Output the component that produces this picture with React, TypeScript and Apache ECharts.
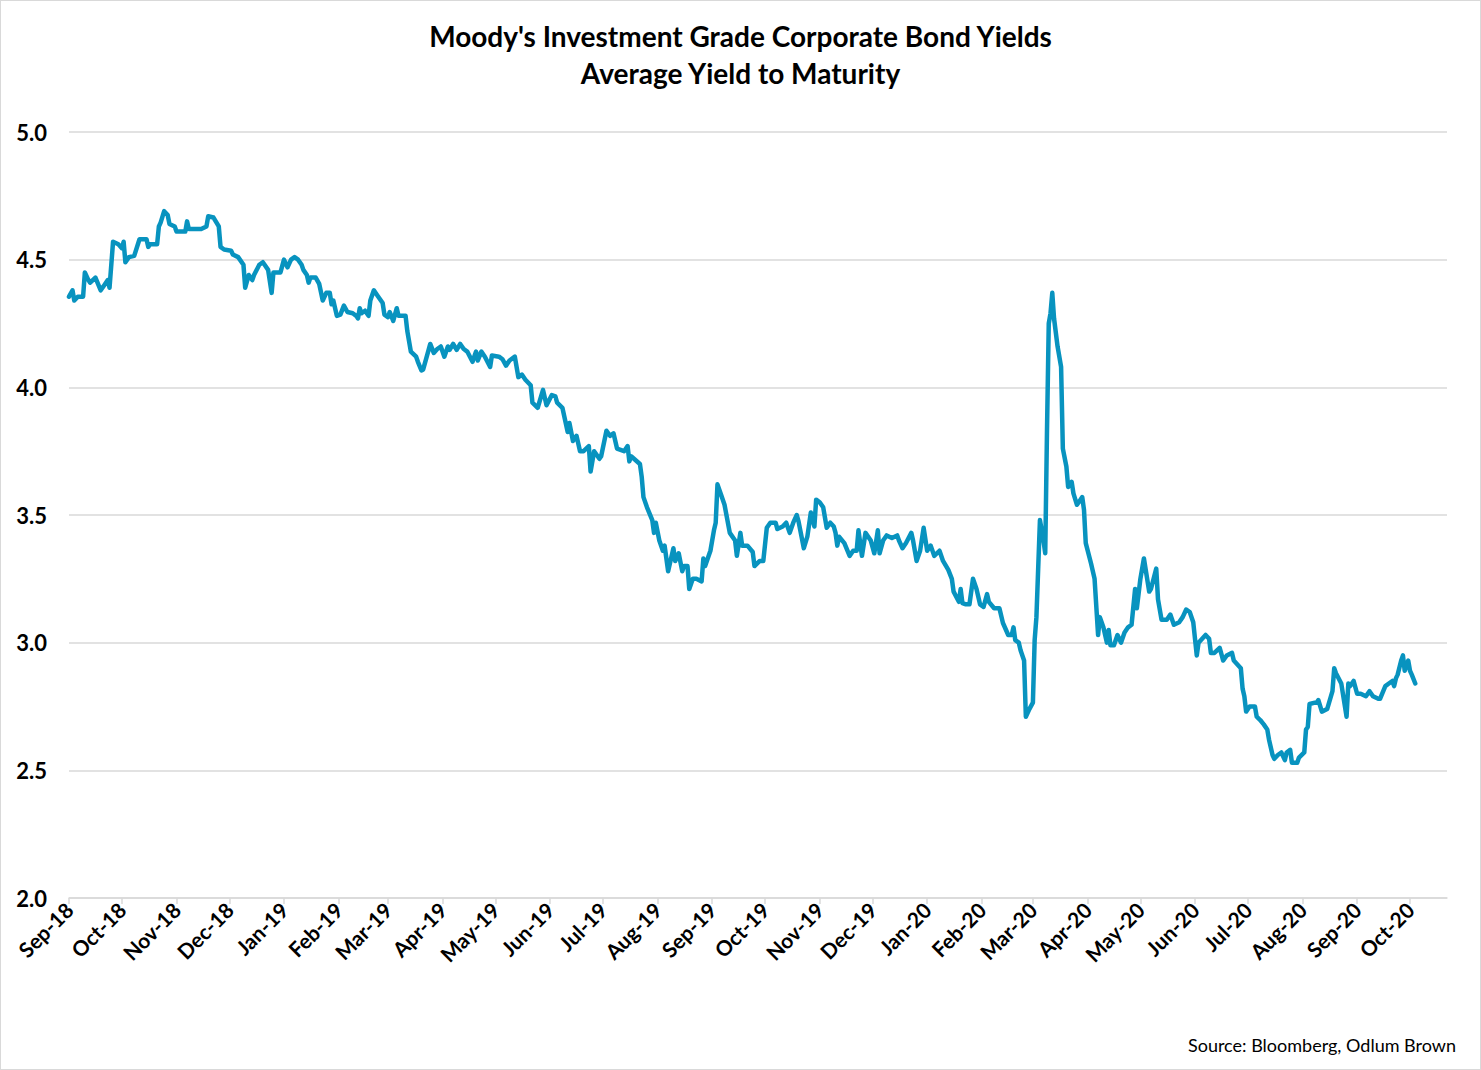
import React, { useEffect, useRef } from "react";
import * as echarts from "echarts";

const TITLE = "Moody's Investment Grade Corporate Bond Yields\nAverage Yield to Maturity";
const SOURCE = "Source: Bloomberg, Odlum Brown";
const START_DATE = "2018-09-01";
const END_DATE = "2020-10-22";
const MONTHS = ["Jan", "Feb", "Mar", "Apr", "May", "Jun", "Jul", "Aug", "Sep", "Oct", "Nov", "Dec"];
const Y_TICKS = [2.0, 2.5, 3.0, 3.5, 4.0, 4.5, 5.0];

// days since START_DATE
const DAY = [
  0, 2, 3, 5, 8, 9, 11, 12, 15, 18, 20, 22, 23, 25, 28, 30, 31, 32, 34, 37, 40, 44, 45, 46, 50, 51, 52, 54, 56, 57,
  60, 61, 66, 67, 68, 75, 78, 79, 82, 85, 86, 88, 92, 93, 96, 99, 100, 102, 104, 105, 108, 110, 111, 113, 115, 116, 120, 122, 124,
  126, 128, 130, 132, 133, 135, 136, 137, 140, 142, 144, 146, 148, 149, 150, 152, 154, 156, 158, 161, 163, 164, 165, 166, 168, 170,
  171, 173, 175, 178, 179, 181, 182, 184, 186, 187, 191, 192, 194, 197, 198, 200, 201, 204, 205, 207, 209, 211, 213, 215, 216, 218,
  220, 222, 224, 226, 229, 231, 232, 234, 236, 239, 240, 244, 246, 248, 250, 253, 255, 257, 259,
  262, 263, 266, 269, 271, 274, 276, 277, 280, 283, 284, 286, 288, 290, 292, 295, 296, 298, 301, 302, 305, 307, 309, 311, 315, 317,
  318, 319, 324, 325, 326, 328, 331, 332, 333, 335, 337, 338, 340, 341, 343, 344, 346, 348, 349, 351, 352, 354, 356, 359, 360, 361,
  364, 366, 367, 368, 370, 372, 375, 378, 379, 381, 382, 385, 388, 389, 392,
  394, 396, 398, 401, 402, 405, 407, 409, 411, 413, 414, 417, 419, 421, 423, 424, 426, 428, 430, 432, 434, 435, 436, 437, 440, 443,
  445, 447, 448, 450, 452, 455, 457, 459, 460, 462, 464, 467, 470, 471, 473, 475, 478, 479, 481, 483, 485, 487, 489, 491, 494, 496,
  499, 501, 502, 505, 506, 507, 509, 511, 513, 515, 517, 519, 521,
  522, 525, 528, 530, 533, 535, 536, 537, 539, 540, 542, 543, 545, 547, 548, 549, 551, 553, 554, 555, 556, 557, 558, 559, 561, 563,
  564, 566, 567, 569, 570, 572, 574, 575, 576, 577, 580, 582, 584, 585, 587, 589, 590, 591, 593, 595, 597, 599, 601, 603, 605, 606,
  608, 610, 613, 614, 617, 618, 620, 623, 625, 627, 630, 632, 634, 636,
  638, 640, 641, 645, 647, 648, 650, 653, 655, 657, 660, 661, 665, 666, 667, 668, 670, 673, 674, 676, 678, 680, 681, 683, 684, 686,
  688, 690, 691, 693, 694, 697, 698, 701, 702, 703, 704, 707, 708, 709, 711, 714, 717, 718, 719, 722, 725, 726, 727, 729, 731, 733,
  736, 738, 740, 743, 744, 747, 749, 751, 752, 753, 754, 756, 757, 758, 760, 761, 762, 764,
];

const YIELD = [
  4.355, 4.38, 4.34, 4.355, 4.355, 4.45, 4.42, 4.41, 4.43, 4.38, 4.40, 4.42, 4.39, 4.57, 4.56, 4.545, 4.57, 4.49, 4.51, 4.515, 4.58, 4.58, 4.55, 4.56, 4.56, 4.63, 4.645, 4.69, 4.675, 4.64,
  4.63, 4.61, 4.61, 4.65, 4.62, 4.62, 4.63, 4.67, 4.665, 4.63, 4.55, 4.54, 4.535, 4.52, 4.51, 4.48, 4.39, 4.44, 4.42, 4.44, 4.48, 4.49, 4.48, 4.46, 4.37, 4.45, 4.45, 4.50, 4.47,
  4.50, 4.51, 4.50, 4.48, 4.46, 4.44, 4.41, 4.43, 4.43, 4.405, 4.34, 4.37, 4.37, 4.325, 4.34, 4.28, 4.285, 4.32, 4.295, 4.29, 4.28, 4.27, 4.31, 4.29, 4.30, 4.28,
  4.34, 4.38, 4.36, 4.33, 4.285, 4.275, 4.295, 4.26, 4.31, 4.28, 4.28, 4.22, 4.14, 4.12, 4.10, 4.066, 4.07, 4.145, 4.17, 4.135, 4.15, 4.16, 4.12, 4.16, 4.147, 4.17,
  4.147, 4.17, 4.15, 4.14, 4.10, 4.14, 4.105, 4.14, 4.12, 4.08, 4.125, 4.12, 4.11, 4.085, 4.105, 4.12, 4.04, 4.05, 4.03,
  4.008, 3.94, 3.92, 3.99, 3.93, 3.97, 3.965, 3.94, 3.92, 3.825, 3.86, 3.79, 3.81, 3.75, 3.75, 3.77, 3.67, 3.75, 3.72, 3.73, 3.83, 3.81, 3.82, 3.76, 3.75, 3.77,
  3.71, 3.73, 3.70, 3.65, 3.57, 3.53, 3.48, 3.43, 3.47, 3.40, 3.36, 3.38, 3.28, 3.31, 3.37, 3.32, 3.35, 3.28, 3.30, 3.30, 3.21, 3.25, 3.25, 3.24, 3.33, 3.30,
  3.36, 3.44, 3.47, 3.62, 3.58, 3.54, 3.43, 3.40, 3.34, 3.43, 3.38, 3.38, 3.355, 3.30, 3.32,
  3.32, 3.45, 3.47, 3.47, 3.445, 3.455, 3.47, 3.43, 3.47, 3.50, 3.475, 3.37, 3.415, 3.51, 3.455, 3.56, 3.55, 3.53, 3.45, 3.47, 3.455, 3.43, 3.38, 3.415, 3.39, 3.34,
  3.36, 3.36, 3.44, 3.34, 3.43, 3.40, 3.35, 3.44, 3.35, 3.40, 3.42, 3.41, 3.42, 3.40, 3.37, 3.39, 3.43, 3.40, 3.32, 3.36, 3.45, 3.36, 3.38, 3.34, 3.36, 3.32,
  3.285, 3.25, 3.20, 3.16, 3.21, 3.155, 3.15, 3.15, 3.25, 3.21, 3.15, 3.14, 3.19,
  3.16, 3.135, 3.135, 3.077, 3.03, 3.03, 3.06, 3.01, 3.00, 2.97, 2.93, 2.71, 2.74, 2.765, 3.01, 3.10, 3.48, 3.40, 3.35, 3.83, 4.25, 4.29, 4.37, 4.27, 4.16, 4.08,
  3.76, 3.69, 3.61, 3.63, 3.585, 3.54, 3.56, 3.57, 3.52, 3.39, 3.31, 3.25, 3.03, 3.10, 3.06, 3.00, 3.05, 2.99, 2.99, 3.03, 3.00, 3.04, 3.06, 3.07, 3.21, 3.135,
  3.25, 3.33, 3.20, 3.21, 3.29, 3.17, 3.09, 3.09, 3.11, 3.07, 3.08, 3.10, 3.13, 3.12,
  3.08, 2.95, 3.00, 3.03, 3.015, 2.96, 2.96, 2.98, 2.93, 2.95, 2.96, 2.93, 2.90, 2.82, 2.79, 2.73, 2.75, 2.75, 2.71, 2.697, 2.68, 2.66, 2.62, 2.56, 2.545, 2.56,
  2.57, 2.54, 2.57, 2.58, 2.53, 2.53, 2.55, 2.57, 2.66, 2.67, 2.76, 2.765, 2.765, 2.775, 2.73, 2.74, 2.81, 2.90, 2.88, 2.84, 2.71, 2.84, 2.83, 2.85, 2.80, 2.80,
  2.79, 2.81, 2.79, 2.78, 2.78, 2.83, 2.84, 2.85, 2.83, 2.86, 2.875, 2.93, 2.95, 2.89, 2.93, 2.89, 2.875, 2.84,
];

function buildDates(start: string, end: string): string[] {
  const out: string[] = [];
  const t0 = Date.parse(start + "T00:00:00Z");
  const t1 = Date.parse(end + "T00:00:00Z");
  for (let t = t0; t <= t1; t += 86400000) {
    out.push(new Date(t).toISOString().slice(0, 10));
  }
  return out;
}

const FONT = "Lato, 'Open Sans', 'DejaVu Sans', sans-serif";

export default function App() {
  const ref = useRef<HTMLDivElement>(null);
  useEffect(() => {
    if (!ref.current) return;
    const chart = echarts.init(ref.current, undefined, { renderer: "svg" });
    const dates = buildDates(START_DATE, END_DATE);
    const isMonthStart = (_i: number, v: string) => typeof v === "string" && v.slice(8, 10) === "01";
    chart.setOption({
      animation: false,
      backgroundColor: "#ffffff",
      title: {
        text: TITLE,
        left: "center",
        top: 11,
        textStyle: {
          fontFamily: FONT,
          fontWeight: "bold",
          fontSize: 28,
          lineHeight: 37,
          color: "#000000",
        },
      },
      grid: { left: 68, right: 33, top: 131, bottom: 171, containLabel: false },
      xAxis: {
        type: "category",
        data: dates,
        boundaryGap: false,
        axisLine: { show: true, lineStyle: { color: "#d9d9d9", width: 1.5 } },
        axisTick: { show: true, interval: isMonthStart, length: 6, lineStyle: { color: "#d9d9d9", width: 1.5 } },
        axisLabel: {
          interval: isMonthStart,
          rotate: 45,
          margin: 8,
          fontFamily: FONT,
          fontWeight: "bold",
          fontSize: 21,
          color: "#000000",
          formatter: (v: string) => MONTHS[parseInt(v.slice(5, 7), 10) - 1] + "-" + v.slice(2, 4),
        },
        splitLine: { show: false },
      },
      yAxis: {
        type: "value",
        min: Y_TICKS[0],
        max: Y_TICKS[Y_TICKS.length - 1],
        interval: 0.5,
        axisLine: { show: false },
        axisTick: { show: false },
        axisLabel: {
          margin: 22,
          fontFamily: FONT,
          fontWeight: "bold",
          fontSize: 22,
          color: "#000000",
          formatter: (v: number) => v.toFixed(1),
        },
        splitLine: { show: true, lineStyle: { color: "#d9d9d9", width: 1.5 } },
      },
      graphic: [
        {
          type: "text",
          right: 24,
          top: 1035,
          style: {
            text: SOURCE,
            fontFamily: FONT,
            fontSize: 18,
            fill: "#000000",
          },
        },
      ],
      series: [
        {
          type: "line",
          data: DAY.map((d, i) => [d, YIELD[i]]),
          showSymbol: false,
          symbol: "none",
          lineStyle: { color: "#0893bf", width: 4.5, join: "round", cap: "round" },
          z: 3,
        },
      ],
    });
    return () => chart.dispose();
  }, []);
  return (
    <div
      style={{
        position: "absolute",
        left: 0,
        top: 0,
        width: 1481,
        height: 1070,
        boxSizing: "border-box",
        border: "1px solid #d9d9d9",
        background: "#ffffff",
      }}
    >
      <div ref={ref} style={{ width: 1479, height: 1068 }} />
    </div>
  );
}
